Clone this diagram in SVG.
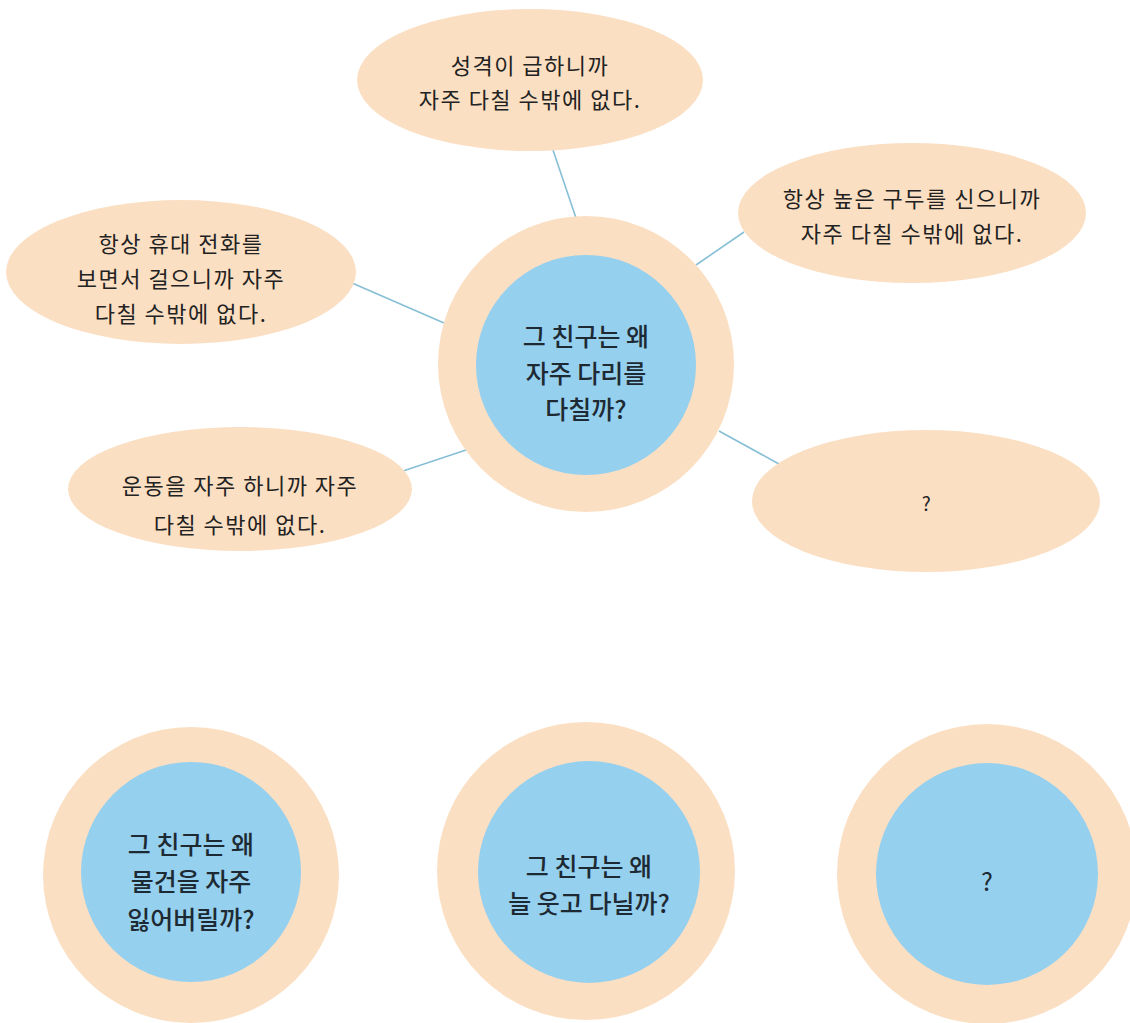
<svg xmlns="http://www.w3.org/2000/svg" width="1130" height="1023" viewBox="0 0 1130 1023">
<style>
.bubble{fill:#fbdfc3}
.outer{fill:#fbdfc3}
.inner{fill:#95d0ef}
.conn{stroke:#86bfd6;stroke-width:1.6;fill:none}
.t{font-family:"Noto Sans CJK KR","Noto Sans",sans-serif;font-size:22px;letter-spacing:1.5px;fill:#222;text-anchor:middle;dominant-baseline:central}
.q{font-family:"Noto Sans CJK KR","Noto Sans",sans-serif;font-size:25px;font-weight:500;fill:#1e2a33;text-anchor:middle;dominant-baseline:central}
</style>
<rect width="1130" height="1023" fill="#ffffff"/>
<g id="connectors">
<line class="conn" x1="553" y1="150" x2="576" y2="218"/>
<line class="conn" x1="352" y1="283" x2="444" y2="323"/>
<line class="conn" x1="744" y1="232" x2="696" y2="265"/>
<line class="conn" x1="403" y1="471" x2="466" y2="450"/>
<line class="conn" x1="719" y1="431" x2="779" y2="464"/>
</g>
<g id="node-top">
<ellipse class="bubble" cx="530" cy="80" rx="173" ry="71"/>
<text class="t" x="530" y="64">성격이 급하니까</text>
<text class="t" x="530" y="98">자주 다칠 수밖에 없다.</text>
</g>
<g id="node-left">
<ellipse class="bubble" cx="181" cy="272" rx="175" ry="72"/>
<text class="t" x="181" y="242">항상 휴대 전화를</text>
<text class="t" x="181" y="277">보면서 걸으니까 자주</text>
<text class="t" x="181" y="312">다칠 수밖에 없다.</text>
</g>
<g id="node-right">
<ellipse class="bubble" cx="912" cy="213" rx="174" ry="70"/>
<text class="t" x="912" y="197">항상 높은 구두를 신으니까</text>
<text class="t" x="912" y="232">자주 다칠 수밖에 없다.</text>
</g>
<g id="node-center">
<circle class="outer" cx="586" cy="364" r="148"/>
<circle class="inner" cx="586" cy="365" r="110"/>
<text class="q" x="586" y="335">그 친구는 왜</text>
<text class="q" x="586" y="372">자주 다리를</text>
<text class="q" x="586" y="408">다칠까?</text>
</g>
<g id="node-bottomleft">
<ellipse class="bubble" cx="240" cy="489" rx="172" ry="62"/>
<text class="t" x="240" y="484">운동을 자주 하니까 자주</text>
<text class="t" x="240" y="523">다칠 수밖에 없다.</text>
</g>
<g id="node-unknown">
<ellipse class="bubble" cx="926" cy="501" rx="174" ry="71"/>
<text class="t" x="927" y="502" style="font-size:19px">?</text>
</g>
<g id="circle-lose">
<circle class="outer" cx="191" cy="875" r="148"/>
<circle class="inner" cx="191" cy="872" r="110"/>
<text class="q" x="191" y="843">그 친구는 왜</text>
<text class="q" x="191" y="880">물건을 자주</text>
<text class="q" x="191" y="918">잃어버릴까?</text>
</g>
<g id="circle-smile">
<circle class="outer" cx="586" cy="871" r="149"/>
<circle class="inner" cx="589" cy="872" r="111"/>
<text class="q" x="589" y="865">그 친구는 왜</text>
<text class="q" x="589" y="902">늘 웃고 다닐까?</text>
</g>
<g id="circle-unknown">
<circle class="outer" cx="987" cy="874" r="150"/>
<circle class="inner" cx="987" cy="874" r="111"/>
<text class="q" x="987" y="880" style="font-weight:400">?</text>
</g>
</svg>
